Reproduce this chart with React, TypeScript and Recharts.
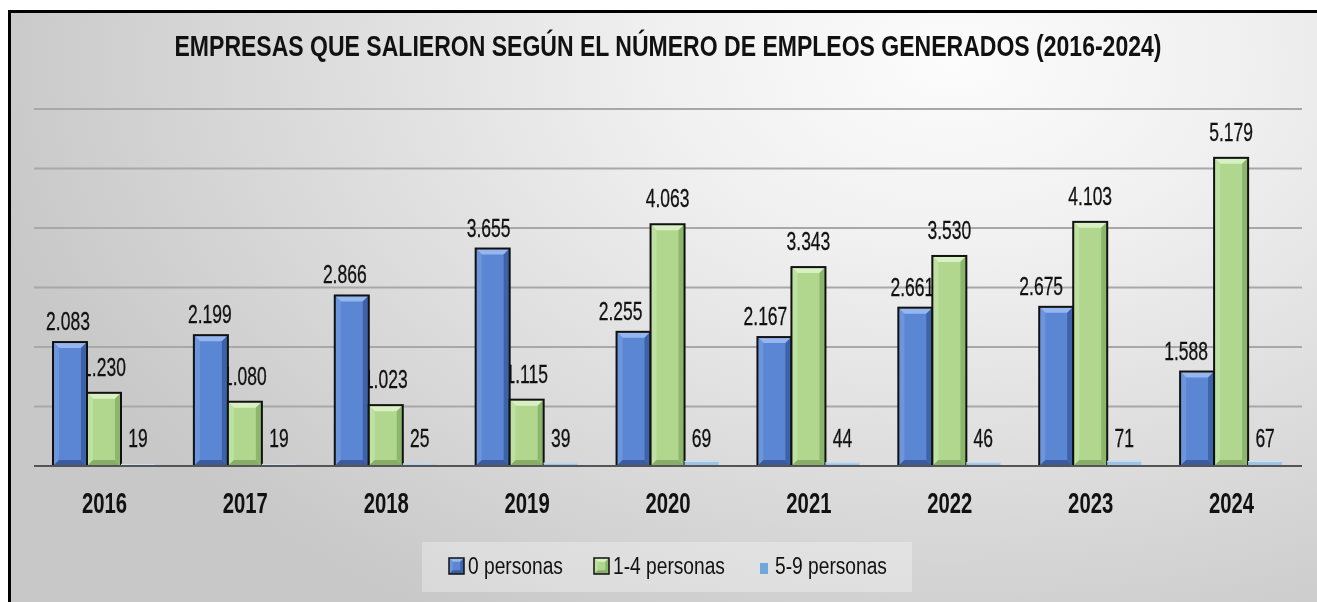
import React from 'react';
import { BarChart, Bar, XAxis, YAxis, CartesianGrid, Legend, LabelList } from 'recharts';

const categories = ['2016', '2017', '2018', '2019', '2020', '2021', '2022', '2023', '2024'];
const ceroPersonas = [2083, 2199, 2866, 3655, 2255, 2167, 2661, 2675, 1588];
const unoCuatroPersonas = [1230, 1080, 1023, 1115, 4063, 3343, 3530, 4103, 5179];
const cincoNuevePersonas = [19, 19, 25, 39, 69, 44, 46, 71, 67];
const yTicks = [0, 1000, 2000, 3000, 4000, 5000, 6000];
const seriesNames = ['0 personas', '1-4 personas', '5-9 personas'];
const title = 'EMPRESAS QUE SALIERON SEGÚN EL NÚMERO DE EMPLEOS GENERADOS (2016-2024)';

// label nudges (style only) for the "0 personas" value labels, as placed in the original
const ceroLabelNudge = [-2, -1, -7, -4, -13, -9, -3, -15, -11];

const data = categories.map((c, i) => ({
  year: c,
  cero: ceroPersonas[i],
  uno: unoCuatroPersonas[i],
  cinco: cincoNuevePersonas[i],
  nudge: ceroLabelNudge[i],
}));

const FONT = "'Liberation Sans', Arial, sans-serif";

const fmt = (n: number) => String(n).replace(/\B(?=(\d{3})+(?!\d))/g, '.');

const BLUE = { base: '#5b86d3', top: '#95b6ef', left: '#6c95dc', right: '#3d62a8', bottom: '#3a5c9e' };
const GREEN = { base: '#b0d78d', top: '#d8f1c4', left: '#bee0a1', right: '#8db66d', bottom: '#87ad68' };

function bevel(x: number, y: number, w: number, h: number, c: any, key: string, sw = 2) {
  const b = Math.max(0, Math.min(6, w / 4, h / 2));
  return (
    <g key={key}>
      <rect x={x} y={y} width={w} height={h} fill={c.base} />
      <polygon points={`${x},${y} ${x + w},${y} ${x + w - b},${y + b} ${x + b},${y + b}`} fill={c.top} />
      <polygon points={`${x},${y} ${x + b},${y + b} ${x + b},${y + h - b} ${x},${y + h}`} fill={c.left} />
      <polygon points={`${x + w},${y} ${x + w},${y + h} ${x + w - b},${y + h - b} ${x + w - b},${y + b}`} fill={c.right} />
      <polygon points={`${x},${y + h} ${x + b},${y + h - b} ${x + w - b},${y + h - b} ${x + w},${y + h}`} fill={c.bottom} />
      <rect x={x} y={y} width={w} height={h} fill="none" stroke="#111" strokeWidth={sw} />
    </g>
  );
}

function LabelText({ x, y, text }: { x: number; y: number; text: string }) {
  return (
    <text
      transform={`translate(${x},${y}) scale(0.7,1)`}
      textAnchor="middle"
      fontFamily={FONT}
      fontSize={25}
      fill="#111"
      stroke="#111"
      strokeWidth={0.3}
    >
      {text}
    </text>
  );
}

// Blue bar shape: draws the value labels of the blue and green bars first so that the bars cover them
function BlueShape(props: any) {
  const { x, y, width, height, payload } = props;
  const base = y + height;
  const ratio = height / payload.cero;
  const gx = x + width;
  const gTop = base - payload.uno * ratio;
  return (
    <g>
      <LabelText x={x + width / 2 + payload.nudge} y={y - 12} text={fmt(payload.cero)} />
      <LabelText x={gx + width / 2} y={gTop - 17} text={fmt(payload.uno)} />
      {bevel(x, y, width, height, BLUE, 'b')}
    </g>
  );
}

function GreenShape(props: any) {
  const { x, y, width, height } = props;
  return bevel(x, y, width, height, GREEN, 'g');
}

function LightShape(props: any) {
  const { x, y, width, height } = props;
  return (
    <g>
      <rect x={x} y={y - 1} width={width} height={Math.max(height, 1) + 1} fill="#9dc3e6" />
      <rect x={x} y={y - 1} width={width} height={1} fill="#cfe2f3" />
    </g>
  );
}

function SmallLabel(props: any) {
  const { x, width, value, viewBox } = props;
  const vb = viewBox || {};
  const base = (vb.y ?? 0) + (vb.height ?? 0);
  const cx = (x ?? vb.x) + (width ?? vb.width) / 2;
  return <LabelText x={cx} y={base - 19} text={fmt(value)} />;
}

function YearTick(props: any) {
  const { x, y, payload } = props;
  return (
    <text
      transform={`translate(${x},${y + 47}) scale(0.7,1)`}
      textAnchor="middle"
      fontFamily={FONT}
      fontWeight="bold"
      fontSize={29}
      fill="#111"
    >
      {payload.value}
    </text>
  );
}

function LegendContent() {
  const items = [
    { name: seriesNames[0], c: BLUE, sx: 27, tx: 46 },
    { name: seriesNames[1], c: GREEN, sx: 172, tx: 191 },
    { name: seriesNames[2], c: null, sx: 338, tx: 353 },
  ];
  return (
    <svg width={490} height={50} style={{ display: 'block', background: 'rgba(255,255,255,0.3)' }}>
      {items.map((it, i) => (
        <g key={i}>
          {it.c ? (
            bevel(it.sx, 16, 15, 16, it.c, 'l' + i, 1.5)
          ) : (
            <rect x={it.sx} y={21} width={8} height={11} fill="#6fa8dc" />
          )}
          <text
            transform={`translate(${it.tx},32) scale(0.81,1)`}
            fontFamily={FONT}
            fontSize={23.7}
            fill="#111"
          >
            {it.name}
          </text>
        </g>
      ))}
    </svg>
  );
}

export default function App() {
  return (
    <div
      style={{
        position: 'fixed',
        left: 8,
        top: 10,
        width: 1309,
        height: 592,
        boxSizing: 'border-box',
        borderLeft: '3px solid #000',
        borderTop: '3px solid #000',
        background:
          'radial-gradient(ellipse 75% 110% at 72% 8%, #fcfcfc 0%, #f0f0f0 30%, #dcdcdc 65%, #c8c8c8 100%)',
        overflow: 'hidden',
      }}
    >
      <svg width={1306} height={80} style={{ position: 'absolute', left: 0, top: 0 }}>
        <text
          x={657}
          y={43}
          textAnchor="middle"
          fontFamily={FONT}
          fontWeight="bold"
          fontSize={29}
          textLength={987}
          lengthAdjust="spacingAndGlyphs"
          fill="#111"
        >
          {title}
        </text>
      </svg>
      <div style={{ position: 'absolute', left: 0, top: 0 }}>
        <BarChart
          width={1306}
          height={589}
          data={data}
          margin={{ top: 96, right: 15, left: 23, bottom: 46 }}
          barGap={0}
          barSize={34}
        >
          <CartesianGrid vertical={false} stroke="#a8a8a8" strokeWidth={2} />
          <YAxis hide domain={[0, 6000]} ticks={yTicks} />
          <XAxis
            dataKey="year"
            axisLine={{ stroke: '#555', strokeWidth: 2 }}
            tickLine={false}
            tickSize={0}
            tickMargin={0}
            tick={<YearTick />}
            interval={0}
            height={40}
          />
          <Legend
            content={<LegendContent />}
            wrapperStyle={{ position: 'absolute', left: 411, top: 529, width: 490, height: 50 }}
          />
          <Bar dataKey="cero" name={seriesNames[0]} fill={BLUE.base} shape={<BlueShape />} isAnimationActive={false} />
          <Bar dataKey="uno" name={seriesNames[1]} fill={GREEN.base} shape={<GreenShape />} isAnimationActive={false} />
          <Bar dataKey="cinco" name={seriesNames[2]} fill="#9dc3e6" shape={<LightShape />} isAnimationActive={false}>
            <LabelList dataKey="cinco" content={<SmallLabel />} />
          </Bar>
        </BarChart>
      </div>
    </div>
  );
}
